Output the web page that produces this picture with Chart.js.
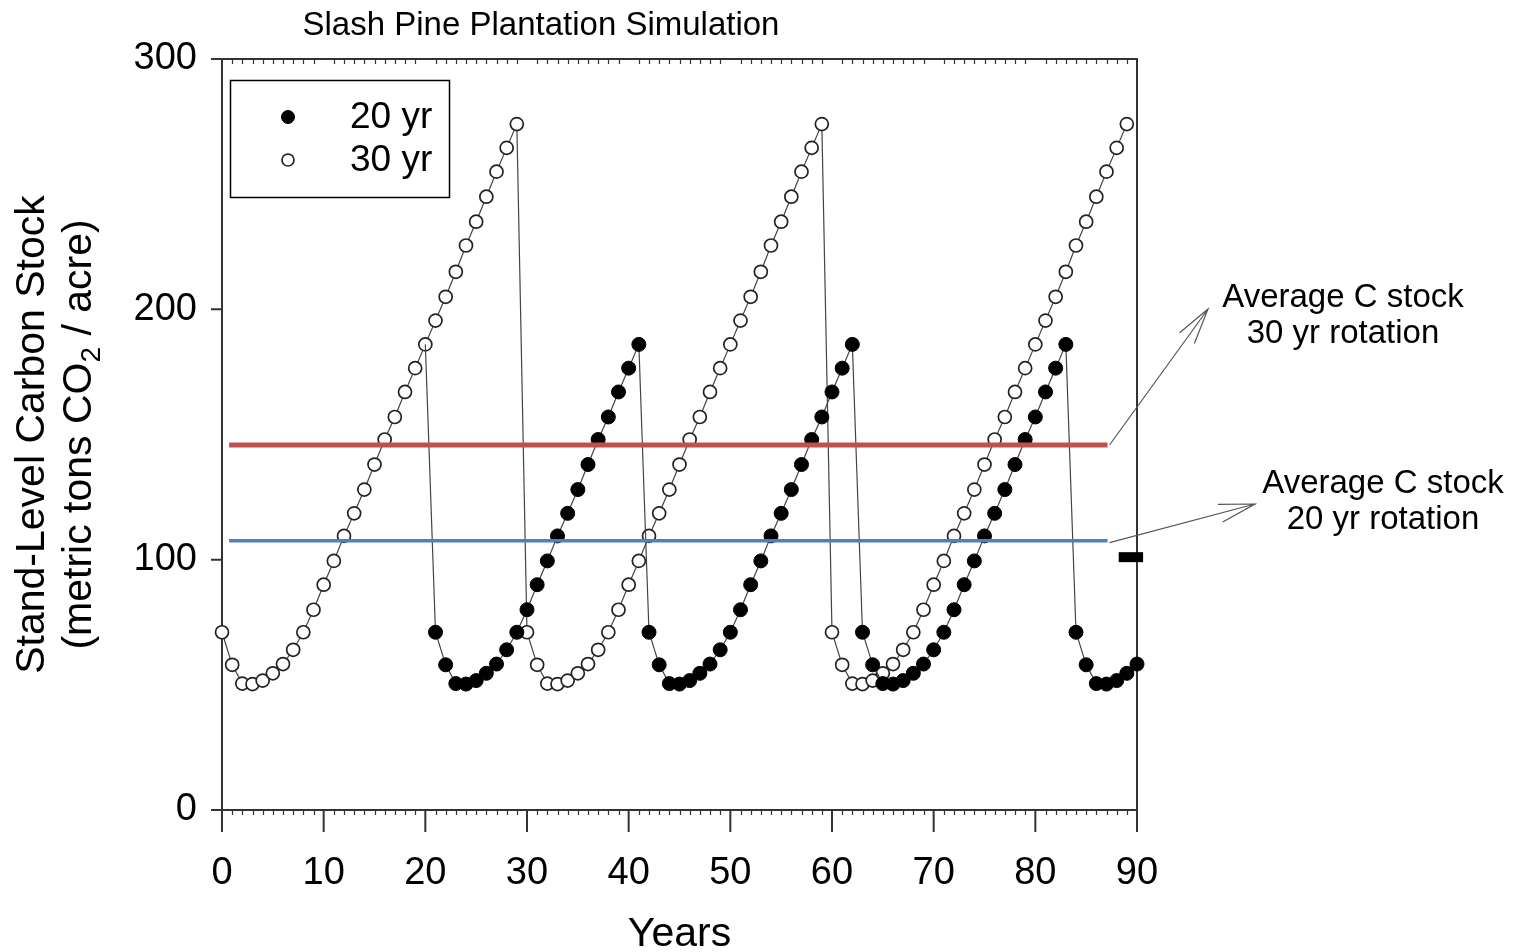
<!DOCTYPE html>
<html>
<head>
<meta charset="utf-8">
<title>Slash Pine Plantation Simulation</title>
<script src="https://cdn.jsdelivr.net/npm/chart.js@4.4.1/dist/chart.umd.min.js"></script>
<style>
  html, body { margin: 0; padding: 0; background: #fff; }
  #wrap { width: 1515px; height: 952px; }
</style>
</head>
<body>
<div id="wrap"><canvas id="carbonChart" width="1515" height="952"></canvas></div>
<script>
// Years (x axis)
const years = [0, 1, 2, 3, 4, 5, 6, 7, 8, 9, 10, 11, 12, 13, 14, 15, 16, 17, 18, 19,
  20, 21, 22, 23, 24, 25, 26, 27, 28, 29, 30, 31, 32, 33, 34, 35, 36, 37, 38, 39,
  40, 41, 42, 43, 44, 45, 46, 47, 48, 49, 50, 51, 52, 53, 54, 55, 56, 57, 58, 59,
  60, 61, 62, 63, 64, 65, 66, 67, 68, 69, 70, 71, 72, 73, 74, 75, 76, 77, 78, 79,
  80, 81, 82, 83, 84, 85, 86, 87, 88, 89, 90];

// 30 yr rotation, years 0-89
const stock30 = [
  71, 58, 50.5, 50.3, 51.7, 54.6, 58.3, 64, 71, 80, 90, 99.5, 109.5, 118.5, 128,
  138, 148, 157, 167, 176.5, 186, 195.5, 205, 215, 225.5, 235, 245, 255, 264.5, 274,
  71, 58, 50.5, 50.3, 51.7, 54.6, 58.3, 64, 71, 80, 90, 99.5, 109.5, 118.5, 128,
  138, 148, 157, 167, 176.5, 186, 195.5, 205, 215, 225.5, 235, 245, 255, 264.5, 274,
  71, 58, 50.5, 50.3, 51.7, 54.6, 58.3, 64, 71, 80, 90, 99.5, 109.5, 118.5, 128,
  138, 148, 157, 167, 176.5, 186, 195.5, 205, 215, 225.5, 235, 245, 255, 264.5, 274];

// 20 yr rotation, years 0-90 (same as 30 yr until year 20, hidden under it)
const stock20 = [
  null, null, null, null, null, null, null, null, null, null,
  null, null, null, null, null, null, null, null, null, null, 186,
  71, 58, 50.5, 50.3, 51.7, 54.6, 58.3, 64, 71, 80, 90, 99.5, 109.5, 118.5, 128,
  138, 148, 157, 167, 176.5, 186,
  71, 58, 50.5, 50.3, 51.7, 54.6, 58.3, 64, 71, 80, 90, 99.5, 109.5, 118.5, 128,
  138, 148, 157, 167, 176.5, 186,
  71, 58, 50.5, 50.3, 51.7, 54.6, 58.3, 64, 71, 80, 90, 99.5, 109.5, 118.5, 128,
  138, 148, 157, 167, 176.5, 186,
  71, 58, 50.5, 50.3, 51.7, 54.6, 58.3];

// average C stock lines
const avgYears = [0.7, 87.1];
const avg30 = [145.8, 145.8];
const avg20 = [107.6, 107.6];
// short black bar near the right axis
const barYears = [88.2, 90.6];
const barValue = [101, 101];

const yTicks = [0, 100, 200, 300];
const xTicks = [0, 10, 20, 30, 40, 50, 60, 70, 80, 90];

const FONT = "'Liberation Sans', Arial, sans-serif";

function pairs(xs, ys) {
  return ys.map((v, i) => ({ x: xs[i], y: v }));
}

function arrow(ctx, x0, y0, x1, y1) {
  const ang = Math.atan2(y1 - y0, x1 - x0);
  const len = 37, spread = 0.25;
  ctx.beginPath();
  ctx.moveTo(x0, y0);
  ctx.lineTo(x1, y1);
  ctx.moveTo(x1 - len * Math.cos(ang - spread), y1 - len * Math.sin(ang - spread));
  ctx.lineTo(x1, y1);
  ctx.lineTo(x1 - len * Math.cos(ang + spread), y1 - len * Math.sin(ang + spread));
  ctx.stroke();
}

// box, ticks and minor ticks
const framePlugin = {
  id: "frame",
  beforeDatasetsDraw(chart) {
    const { ctx, chartArea: a, scales: { x, y } } = chart;
    ctx.save();
    ctx.strokeStyle = "#333";
    ctx.lineWidth = 2;
    ctx.strokeRect(a.left, a.top, a.right - a.left, a.bottom - a.top);
    // left axis line runs down to the long x ticks
    ctx.beginPath();
    ctx.moveTo(a.left, a.bottom);
    ctx.lineTo(a.left, a.bottom + 22);
    ctx.stroke();

    ctx.beginPath();
    xTicks.forEach(t => {
      const px = x.getPixelForValue(t);
      ctx.moveTo(px, a.bottom);
      ctx.lineTo(px, a.bottom + 22);
    });
    yTicks.forEach(t => {
      const py = y.getPixelForValue(t);
      ctx.moveTo(a.left - 11, py);
      ctx.lineTo(a.left, py);
    });
    ctx.stroke();

    ctx.lineWidth = 1.2;
    ctx.beginPath();
    years.forEach(t => {
      if (t % 10 === 0) return;
      const px = Math.round(x.getPixelForValue(t)) + 0.5;
      ctx.moveTo(px, a.bottom);
      ctx.lineTo(px, a.bottom + 5);
      ctx.moveTo(px, a.top);
      ctx.lineTo(px, a.top + 5);
    });
    ctx.stroke();
    ctx.restore();
  }
};

// titles, legend and arrows
const textPlugin = {
  id: "texts",
  afterDraw(chart) {
    const { ctx, chartArea: a, scales: { x, y } } = chart;
    ctx.save();
    ctx.fillStyle = "#000";
    ctx.textBaseline = "middle";
    ctx.textAlign = "center";

    ctx.font = "33px " + FONT;
    ctx.fillText("Slash Pine Plantation Simulation", 541, 26);

    ctx.font = "41px " + FONT;
    ctx.fillText("Years", (a.left + a.right) / 2, 935);

    // y title, two rotated lines
    const cy = (a.top + a.bottom) / 2;
    ctx.save();
    ctx.translate(33, cy);
    ctx.rotate(-Math.PI / 2);
    ctx.fillText("Stand-Level Carbon Stock", 0, 0);
    ctx.restore();

    ctx.save();
    ctx.translate(80, cy);
    ctx.rotate(-Math.PI / 2);
    const p1 = "(metric tons CO", p3 = " / acre)";
    ctx.font = "41px " + FONT;
    const w1 = ctx.measureText(p1).width, w3 = ctx.measureText(p3).width;
    ctx.font = "28px " + FONT;
    const w2 = ctx.measureText("2").width;
    let sx = -(w1 + w2 + w3) / 2;
    ctx.textAlign = "left";
    ctx.font = "41px " + FONT;
    ctx.fillText(p1, sx, 0);
    ctx.font = "28px " + FONT;
    ctx.fillText("2", sx + w1, 12);
    ctx.font = "41px " + FONT;
    ctx.fillText(p3, sx + w1 + w2, 0);
    ctx.restore();

    // legend
    ctx.strokeStyle = "#000";
    ctx.lineWidth = 1.5;
    ctx.strokeRect(230.5, 80.5, 219, 117);
    const entries = [chart.data.datasets[3], chart.data.datasets[4]];
    entries.forEach((ds, i) => {
      const ly = 117 + i * 43;
      ctx.beginPath();
      ctx.arc(288, ly, ds.legendRadius, 0, Math.PI * 2);
      ctx.fillStyle = ds.pointBackgroundColor;
      ctx.fill();
      ctx.lineWidth = ds.pointBorderWidth;
      ctx.strokeStyle = ds.pointBorderColor;
      ctx.stroke();
      ctx.fillStyle = "#000";
      ctx.textAlign = "left";
      ctx.font = "37px " + FONT;
      ctx.fillText(ds.label, 350, ly + 1);
    });

    // arrows from the average lines to their notes
    ctx.strokeStyle = "#555";
    ctx.lineWidth = 1.2;
    arrow(ctx, x.getPixelForValue(avgYears[1]) + 2, y.getPixelForValue(avg30[1]), 1208, 309);
    arrow(ctx, x.getPixelForValue(avgYears[1]) + 2, y.getPixelForValue(avg20[1]) + 2, 1255, 504);

    ctx.fillStyle = "#000";
    ctx.textAlign = "center";
    ctx.font = "33px " + FONT;
    ctx.fillText("Average C stock", 1343, 298);
    ctx.fillText("30 yr rotation", 1343, 334);
    ctx.fillText("Average C stock", 1383, 484);
    ctx.fillText("20 yr rotation", 1383, 520);
    ctx.restore();
  }
};

new Chart(document.getElementById("carbonChart"), {
  type: "line",
  data: {
    datasets: [
      {
        label: "Average 30 yr",
        data: pairs(avgYears, avg30),
        borderColor: "#C0504D",
        borderWidth: 5,
        pointRadius: 0,
        clip: false
      },
      {
        label: "Average 20 yr",
        data: pairs(avgYears, avg20),
        borderColor: "#4F81BD",
        borderWidth: 3.5,
        pointRadius: 0,
        clip: false
      },
      {
        label: "bar",
        data: pairs(barYears, barValue),
        borderColor: "#000",
        borderWidth: 10,
        borderCapStyle: "butt",
        pointRadius: 0,
        clip: false
      },
      {
        label: "20 yr",
        data: pairs(years, stock20),
        borderColor: "#444",
        borderWidth: 1.2,
        legendRadius: 6.5,
        // the year-20 point sits under the 30 yr marker
        pointRadius: ctx => (ctx.raw && ctx.raw.x === 20 ? 0 : 7),
        pointBackgroundColor: "#000",
        pointBorderColor: "#000",
        pointBorderWidth: 1,
        clip: false
      },
      {
        label: "30 yr",
        data: pairs(years.slice(0, stock30.length), stock30),
        borderColor: "#444",
        borderWidth: 1.2,
        legendRadius: 6,
        pointRadius: 6.5,
        pointBackgroundColor: "#fff",
        pointBorderColor: "#222",
        pointBorderWidth: 1.7,
        clip: false
      }
    ]
  },
  options: {
    responsive: false,
    animation: false,
    devicePixelRatio: 1,
    layout: { padding: { left: 0, top: 59, right: 378, bottom: 0 } },
    plugins: {
      legend: { display: false },
      title: { display: false },
      tooltip: { enabled: false }
    },
    scales: {
      x: {
        type: "linear",
        min: 0,
        max: 90,
        afterFit: s => { s.height = 142; },
        afterBuildTicks: s => { s.ticks = xTicks.map(v => ({ value: v })); },
        grid: { display: false, drawTicks: false },
        border: { display: false },
        ticks: {
          padding: 41,
          color: "#000",
          font: { family: FONT, size: 38 },
          maxRotation: 0
        }
      },
      y: {
        min: 0,
        max: 300,
        afterFit: s => { s.width = 222; },
        afterBuildTicks: s => { s.ticks = yTicks.map(v => ({ value: v })); },
        grid: { display: false, drawTicks: false },
        border: { display: false },
        ticks: {
          padding: 25,
          color: "#000",
          font: { family: FONT, size: 38 }
        }
      }
    }
  },
  plugins: [framePlugin, textPlugin]
});
</script>
</body>
</html>
